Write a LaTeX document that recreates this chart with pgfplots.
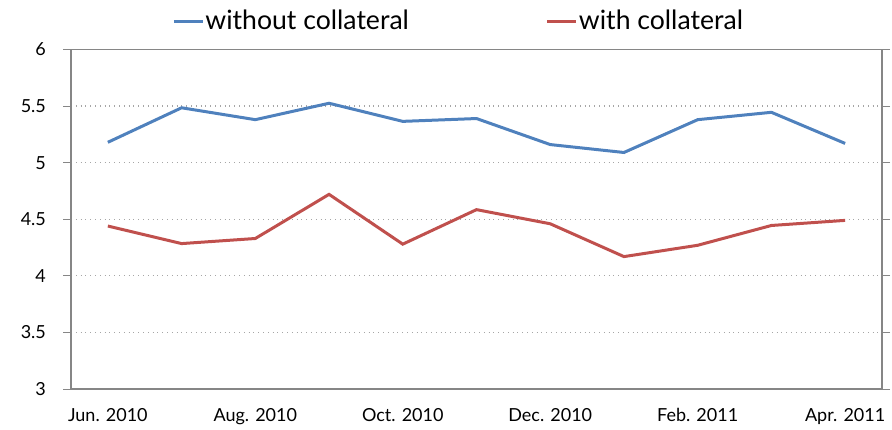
\documentclass[border=0pt]{standalone}
\usepackage{pgfplots}
\pgfplotsset{compat=1.18}
\usepackage{fontspec}
\setmainfont{Lato}
\definecolor{lineBlue}{HTML}{4F81BD}
\definecolor{lineRed}{HTML}{C0504D}
\definecolor{frameGray}{HTML}{868686}

\begin{document}
\begin{tikzpicture}
\begin{axis}[
    width=405.5pt, height=169.75pt,
    scale only axis,
    xmin=-0.5, xmax=10.5,
    ymin=3, ymax=6,
    xtick={0,2,4,6,8,10},
    xticklabels={Jun. 2010, Aug. 2010, Oct. 2010, Dec. 2010, Feb. 2011, Apr. 2011},
    extra x ticks={-0.5,0.5,...,10.5},
    extra x tick labels={},
    extra x tick style={major tick length=4pt, tick style={frameGray, line width=0.6pt}},
    ytick={3,3.5,...,6},
    yticklabels={3,3.5,4,4.5,5,5.5,6},
    tick align=outside,
    major tick length=4pt,
    x tick style={draw=none},
    y tick style={frameGray, line width=0.5pt},
    ymajorgrids,
    grid style={gray!70, dotted, line width=0.6pt},
    axis line style={frameGray, line width=0.8pt},
    ticklabel style={font=\fontsize{9}{11}\selectfont},
    /pgf/number format/assume math mode=true,
    xticklabel style={yshift=-2pt},
    yticklabel style={xshift=-5pt},
    legend style={at={(0.1245,1)}, anchor=west, yshift=14pt, draw=none, fill=none,
        inner xsep=0pt, inner ysep=0pt,
        legend columns=2, font=\fontsize{13.3}{15}\selectfont,
        /tikz/every even column/.append style={column sep=68pt},
        nodes={inner xsep=0.5pt}},
    legend image code/.code={\draw[#1, line width=1.5pt] (0,0) -- (14.5pt,0);},
    legend cell align=left,
]
\addplot[lineBlue, line width=1.5pt] coordinates {
    (0,5.18) (1,5.485) (2,5.38) (3,5.525) (4,5.365) (5,5.39)
    (6,5.16) (7,5.09) (8,5.38) (9,5.445) (10,5.17)
};
\addlegendentry{without collateral}
\addplot[lineRed, line width=1.5pt] coordinates {
    (0,4.44) (1,4.285) (2,4.33) (3,4.72) (4,4.28) (5,4.585)
    (6,4.46) (7,4.17) (8,4.27) (9,4.445) (10,4.49)
};
\addlegendentry{with collateral}
\end{axis}
\pgfresetboundingbox
\path (-35.5pt,-20pt) rectangle (410.5pt,194.5pt);
\end{tikzpicture}
\end{document}
